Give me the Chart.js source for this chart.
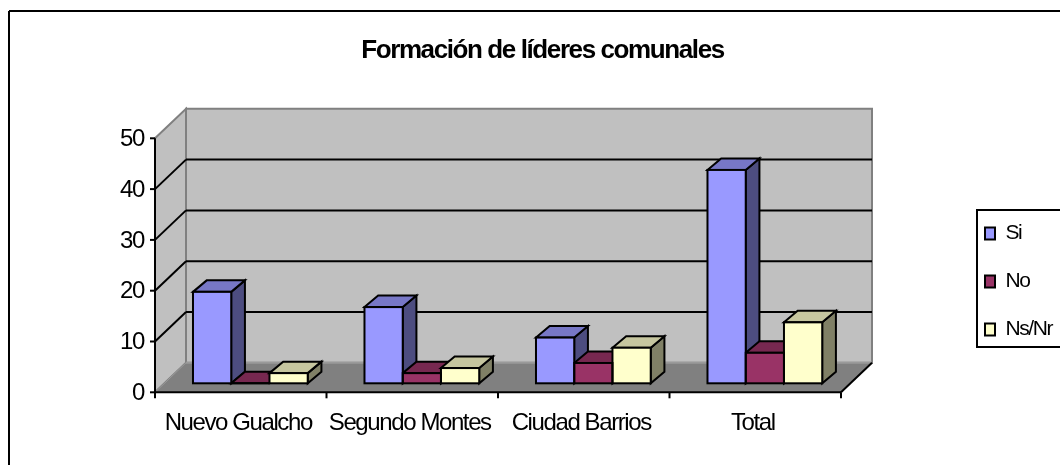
<!DOCTYPE html>
<html>
<head>
<meta charset="utf-8">
<style>html,body{margin:0;padding:0;background:#fff;overflow:hidden}canvas{display:block}</style>
<script src="https://cdn.jsdelivr.net/npm/chart.js@4"></script>
</head>
<body>
<canvas id="c" width="1060" height="465"></canvas>
<script>
const categories = ['Nuevo Gualcho', 'Segundo Montes', 'Ciudad Barrios', 'Total'];
const si = [18, 15, 9, 42];
const no = [0, 2, 4, 6];
const nsnr = [2, 3, 7, 12];
const yTicks = [0, 10, 20, 30, 40, 50];

const FONT = '"Liberation Sans", Arial, sans-serif';
const TRACKING = '-1.4px';
const frontShift = {x: -9.6, y: 9};     // bar plane -> front axis plane
const backShift = {x: 21.4, y: -20.5};  // bar plane -> back wall plane
const barDepth = {x: 13.7, y: -11.5};
const faces = [
  {front: '#9999FF', top: '#7777C6', side: '#4D4D80'},
  {front: '#993366', top: '#772850', side: '#4D1A33'},
  {front: '#FFFFCC', top: '#C6C69F', side: '#808066'}
];

function poly(ctx, pts, fill, stroke, lw) {
  ctx.beginPath();
  pts.forEach((p, i) => i ? ctx.lineTo(p[0], p[1]) : ctx.moveTo(p[0], p[1]));
  ctx.closePath();
  if (fill) { ctx.fillStyle = fill; ctx.fill(); }
  if (stroke) { ctx.strokeStyle = stroke; ctx.lineWidth = lw; ctx.stroke(); }
}
function line(ctx, x1, y1, x2, y2, color, lw) {
  ctx.beginPath(); ctx.moveTo(x1, y1); ctx.lineTo(x2, y2);
  ctx.strokeStyle = color; ctx.lineWidth = lw; ctx.stroke();
}

const scene = {
  id: 'scene',
  afterUpdate(chart) {
    const lg = chart.legend;
    lg.maxHeight = 400;
    lg.fit();
    lg.left = 958; lg.right = 1060; lg.top = 196; lg.bottom = 600;
    lg.adjustHitBoxes();
    const t = chart.titleBlock;
    t.left = 25; t.right = 1060;
  },
  beforeDraw(chart) {
    const ctx = chart.ctx;
    ctx.letterSpacing = TRACKING;
    ctx.save();
    ctx.fillStyle = '#fff'; ctx.fillRect(0, 0, 1060, 465);
    ctx.lineJoin = 'miter';
    // outer frame
    line(ctx, 9, 465, 9, 11, '#000', 2);
    line(ctx, 9, 11, 1060, 11, '#000', 2);
    // legend frame
    ctx.strokeStyle = '#000'; ctx.lineWidth = 2;
    ctx.strokeRect(977, 210, 100, 137);
    ctx.restore();
  },
  beforeDatasetsDraw(chart) {
    const ctx = chart.ctx, {x: xs, y: ys} = chart.scales;
    const a = chart.chartArea;
    const yVal = v => ys.getPixelForValue(v);
    const fx0 = a.left + frontShift.x, fx1 = a.right + frontShift.x;
    const bx0 = a.left + backShift.x, bx1 = a.right + backShift.x;
    const y0 = yVal(0), y50 = yVal(50);
    ctx.save();
    // walls and floor
    poly(ctx, [[bx0, y50 + backShift.y], [bx1, y50 + backShift.y], [bx1, y0 + backShift.y], [bx0, y0 + backShift.y]], '#C0C0C0', '#808080', 2);
    poly(ctx, [[fx0, y50 + frontShift.y], [bx0, y50 + backShift.y], [bx0, y0 + backShift.y], [fx0, y0 + frontShift.y]], '#C0C0C0', '#808080', 2);
    poly(ctx, [[fx0, y0 + frontShift.y], [bx0, y0 + backShift.y], [bx1, y0 + backShift.y], [fx1, y0 + frontShift.y]], '#808080', null, 0);
    line(ctx, bx0, y0 + backShift.y, bx1, y0 + backShift.y, '#9A9A9A', 2);
    line(ctx, fx0, y0 + frontShift.y, bx0, y0 + backShift.y, '#9A9A9A', 1);
    // gridlines
    yTicks.slice(1, -1).forEach(v => {
      const p = yVal(v);
      line(ctx, fx0, p + frontShift.y, bx0, p + backShift.y, '#000', 2);
      line(ctx, bx0, p + backShift.y, bx1, p + backShift.y, '#000', 2);
    });
    line(ctx, fx1, y0 + frontShift.y, bx1, y0 + backShift.y, '#000', 2);
    // axes and tick marks
    line(ctx, fx0, y50 + frontShift.y, fx0, y0 + frontShift.y + 1, '#000', 2);
    line(ctx, fx0, y0 + frontShift.y, fx1, y0 + frontShift.y, '#000', 2);
    yTicks.forEach(v => line(ctx, fx0 - 5, yVal(v) + frontShift.y, fx0, yVal(v) + frontShift.y, '#000', 2));
    const step = (a.right - a.left) / categories.length;
    categories.forEach((c, i) => {
      const edge = xs.getPixelForValue(i) - step / 2 + frontShift.x;
      line(ctx, edge, y0 + frontShift.y, edge, y0 + frontShift.y + 6, '#000', 2);
    });
    line(ctx, fx1, y0 + frontShift.y, fx1, y0 + frontShift.y + 6, '#000', 2);
    // bar tops and sides, series by series inside each category
    categories.forEach((c, i) => {
      chart.data.datasets.forEach((ds, d) => {
        const el = chart.getDatasetMeta(d).data[i];
        const l = el.x - el.width / 2, r = el.x + el.width / 2;
        const t = el.y, b = el.base, dx = barDepth.x, dy = barDepth.y;
        poly(ctx, [[r, t], [r + dx, t + dy], [r + dx, b + dy], [r, b]], faces[d].side, '#000', 2);
        poly(ctx, [[l, t], [l + dx, t + dy], [r + dx, t + dy], [r, t]], faces[d].top, '#000', 2);
      });
    });
    ctx.restore();
  },
  afterDatasetsDraw(chart) {
    const ctx = chart.ctx;
    ctx.save();
    chart.data.datasets.forEach((ds, d) => {
      chart.getDatasetMeta(d).data.forEach(el => {
        ctx.strokeStyle = '#000'; ctx.lineWidth = 2;
        ctx.strokeRect(el.x - el.width / 2, el.y, el.width, el.base - el.y);
      });
    });
    ctx.restore();
  }
};

new Chart(document.getElementById('c'), {
  type: 'bar',
  data: {
    labels: categories,
    datasets: [
      {label: 'Si', data: si, backgroundColor: faces[0].front, borderWidth: 0},
      {label: 'No', data: no, backgroundColor: faces[1].front, borderWidth: 0},
      {label: 'Ns/Nr', data: nsnr, backgroundColor: faces[2].front, borderWidth: 0}
    ]
  },
  options: {
    responsive: false,
    animation: false,
    layout: {padding: {left: 0, right: 209.4, top: 0, bottom: 0}},
    datasets: {bar: {barPercentage: 1, categoryPercentage: 0.669}},
    plugins: {
      tooltip: {enabled: false},
      title: {
        display: true,
        text: 'Formación de líderes comunales',
        color: '#000',
        font: {family: FONT, size: 26, weight: 'bold', lineHeight: 1.2},
        padding: {top: 35.4, bottom: 62.7}
      },
      legend: {
        position: 'chartArea',
        align: 'start',
        labels: {
          boxWidth: 10, boxHeight: 12, padding: 27, color: '#000',
          font: {family: FONT, size: 21},
          generateLabels: chart => chart.data.datasets.map((ds, i) => ({
            text: ds.label, fillStyle: ds.backgroundColor, strokeStyle: '#000', lineWidth: 2, datasetIndex: i
          }))
        }
      }
    },
    scales: {
      x: {
        grid: {display: false, drawTicks: false},
        border: {display: false},
        afterFit(s) { s.height = 81.7; },
        ticks: {color: '#000', font: {family: FONT, size: 24}, labelOffset: frontShift.x - 2.5, padding: 26, autoSkip: false, maxRotation: 0}
      },
      y: {
        min: 0, max: 50,
        grid: {display: false, drawTicks: false},
        border: {display: false},
        afterFit(s) { s.width = 164.6; },
        afterBuildTicks(s) { s.ticks = yTicks.map(v => ({value: v})); },
        ticks: {color: '#000', font: {family: FONT, size: 24}, labelOffset: frontShift.y + 1, padding: 20.6}
      }
    }
  },
  plugins: [scene]
});
</script>
</body>
</html>
